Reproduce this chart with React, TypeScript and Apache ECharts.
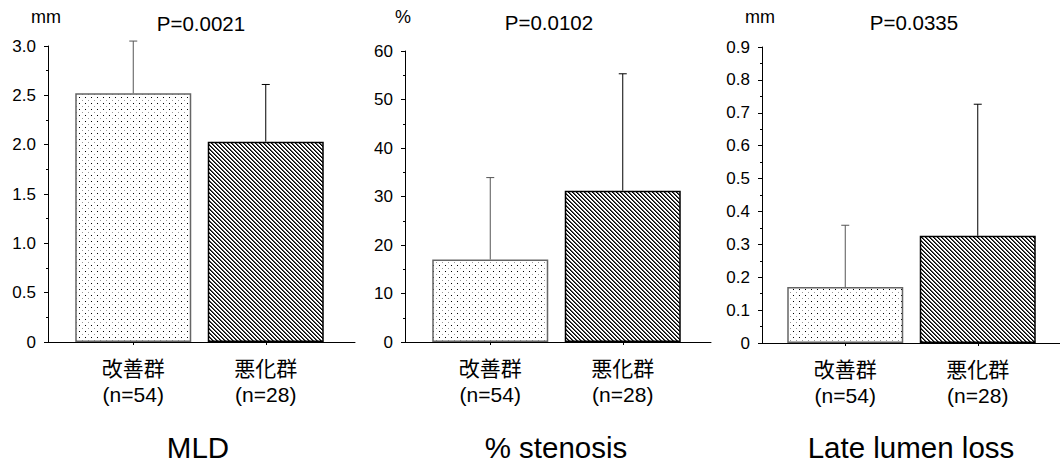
import React, { useEffect, useRef } from "react";
import * as echarts from "echarts";

const categories = ["改善群\n(n=54)", "悪化群\n(n=28)"];

const mldMeans = [2.52, 2.03];
const mldUpper = [3.05, 2.61];
const mldTicks = { min: 0, max: 3, interval: 0.5 };

const stenosisMeans = [17.0, 31.2];
const stenosisUpper = [33.9, 55.3];
const stenosisTicks = { min: 0, max: 60, interval: 10 };

const lllMeans = [0.17, 0.326];
const lllUpper = [0.358, 0.726];
const lllTicks = { min: 0, max: 0.9, interval: 0.1 };

const pValues = ["P=0.0021", "P=0.0102", "P=0.0335"];
const units = ["mm", "%", "mm"];
const titles = ["MLD", "% stenosis", "Late lumen loss"];

const FONT = "'Liberation Sans', Arial, sans-serif";
const CJK = "'Liberation Sans', 'Noto Sans CJK JP', sans-serif";

function makeDots() {
  const c = document.createElement("canvas");
  c.width = 6;
  c.height = 6;
  const ctx = c.getContext("2d")!;
  ctx.fillStyle = "#fff";
  ctx.fillRect(0, 0, 6, 6);
  ctx.fillStyle = "#000";
  ctx.fillRect(1, 1, 1, 1);
  ctx.fillStyle = "#999";
  ctx.fillRect(4, 4, 1, 1);
  return c;
}

function makeHatch() {
  const c = document.createElement("canvas");
  c.width = 4;
  c.height = 4;
  const ctx = c.getContext("2d")!;
  ctx.fillStyle = "#fff";
  ctx.fillRect(0, 0, 4, 4);
  for (let y = 0; y < 4; y++) {
    for (let x = 0; x < 4; x++) {
      const d = (((x - y) % 4) + 4) % 4;
      if (d === 0) {
        ctx.fillStyle = "#000";
        ctx.fillRect(x, y, 1, 1);
      } else if (d === 1) {
        ctx.fillStyle = "#555";
        ctx.fillRect(x, y, 1, 1);
      }
    }
  }
  return c;
}

export default function App() {
  const ref = useRef<HTMLDivElement>(null);
  useEffect(() => {
    if (!ref.current) return;
    const chart = echarts.init(ref.current, null, { renderer: "svg" });
    const dots = makeDots();
    const hatch = makeHatch();
    const dotFill: any = { image: dots, repeat: "repeat", imageWidth: 6, imageHeight: 6 };
    const hatchFill: any = { image: hatch, repeat: "repeat", imageWidth: 4, imageHeight: 4 };

    const panels = [
      { means: mldMeans, upper: mldUpper, ticks: mldTicks, outer: { left: 48, top: 46, width: 307, height: 296 }, inner: { left: 67, width: 265 }, dec: 1 },
      { means: stenosisMeans, upper: stenosisUpper, ticks: stenosisTicks, outer: { left: 405, top: 51, width: 306, height: 291 }, inner: { left: 424, width: 265 }, dec: 0 },
      { means: lllMeans, upper: lllUpper, ticks: lllTicks, outer: { left: 762, top: 47, width: 298, height: 296 }, inner: { left: 779, width: 265 }, dec: 1 },
    ];

    const grid: any[] = [];
    const xAxis: any[] = [];
    const yAxis: any[] = [];
    const series: any[] = [];
    const graphic: any[] = [];

    panels.forEach((p, i) => {
      const go = grid.length;
      grid.push({ left: p.outer.left, top: p.outer.top, width: p.outer.width, height: p.outer.height });
      grid.push({ left: p.inner.left, top: p.outer.top, width: p.inner.width, height: p.outer.height });
      xAxis.push({
        gridIndex: go, type: "value", min: 0, max: 1,
        axisLine: { show: true, onZero: false, lineStyle: { color: "#000", width: 1 } },
        axisTick: { show: false }, axisLabel: { show: false }, splitLine: { show: false },
      });
      xAxis.push({
        gridIndex: go + 1, type: "category", data: categories,
        axisLine: { show: false },
        axisTick: { show: true, alignWithLabel: true, length: 3, lineStyle: { color: "#000" } },
        axisLabel: { interval: 0, margin: 13, fontSize: 21, lineHeight: 26, color: "#000", fontFamily: CJK },
      });
      yAxis.push({
        gridIndex: go, type: "value", min: p.ticks.min, max: p.ticks.max, interval: p.ticks.interval,
        axisLine: { show: true, lineStyle: { color: "#000", width: 1 } },
        axisTick: { show: true, inside: false, length: 4, lineStyle: { color: "#000" } },
        minorTick: { show: true, splitNumber: 2, length: 2, lineStyle: { color: "#000" } },
        splitLine: { show: false },
        axisLabel: {
          margin: 12, fontSize: 17, color: "#000", fontFamily: FONT,
          formatter: (v: number) => (v === 0 ? "0" : v.toFixed(p.dec)),
        },
      });
      yAxis.push({
        gridIndex: go + 1, type: "value", min: p.ticks.min, max: p.ticks.max, interval: p.ticks.interval, show: false,
      });
      series.push({
        type: "bar", xAxisIndex: go + 1, yAxisIndex: go + 1, barWidth: 116,
        data: [
          { value: p.means[0], itemStyle: { color: dotFill, borderColor: "#666", borderWidth: 1.5 } },
          { value: p.means[1], itemStyle: { color: hatchFill, borderColor: "#000", borderWidth: 1.5 } },
        ],
      });
      series.push({
        type: "custom", xAxisIndex: go + 1, yAxisIndex: go + 1,
        data: p.means.map((m, k) => [k, m, p.upper[k]]),
        renderItem: (params: any, api: any) => {
          const k = api.value(0);
          const b = api.coord([k, api.value(1)]);
          const t = api.coord([k, api.value(2)]);
          const stroke = k === 0 ? "#555" : "#000";
          return {
            type: "group",
            children: [
              { type: "line", shape: { x1: b[0], y1: b[1], x2: t[0], y2: t[1] }, style: { stroke, lineWidth: 1 } },
              { type: "line", shape: { x1: t[0] - 4, y1: t[1], x2: t[0] + 4, y2: t[1] }, style: { stroke, lineWidth: 1 } },
            ],
          };
        },
      });
      graphic.push({
        type: "text", x: p.outer.left - 2, y: 17,
        style: { text: units[i], fontSize: 18, fontFamily: FONT, fill: "#000", textAlign: "center", textVerticalAlign: "middle" },
      });
      graphic.push({
        type: "text", x: [201, 549, 914][i], y: [23, 22, 22][i],
        style: { text: pValues[i], fontSize: 20.5, fontFamily: FONT, fill: "#000", textAlign: "center", textVerticalAlign: "middle" },
      });
      graphic.push({
        type: "text", x: [198, 556, 911][i], y: 447,
        style: { text: titles[i], fontSize: 29.5, fontFamily: FONT, fill: "#000", textAlign: "center", textVerticalAlign: "middle" },
      });
    });

    chart.setOption({
      animation: false,
      backgroundColor: "#fff",
      grid, xAxis, yAxis, series, graphic,
    });
    return () => chart.dispose();
  }, []);
  return (
    <div
      ref={ref}
      style={{ position: "absolute", left: 0, top: 0, width: 1060, height: 463 }}
    />
  );
}
